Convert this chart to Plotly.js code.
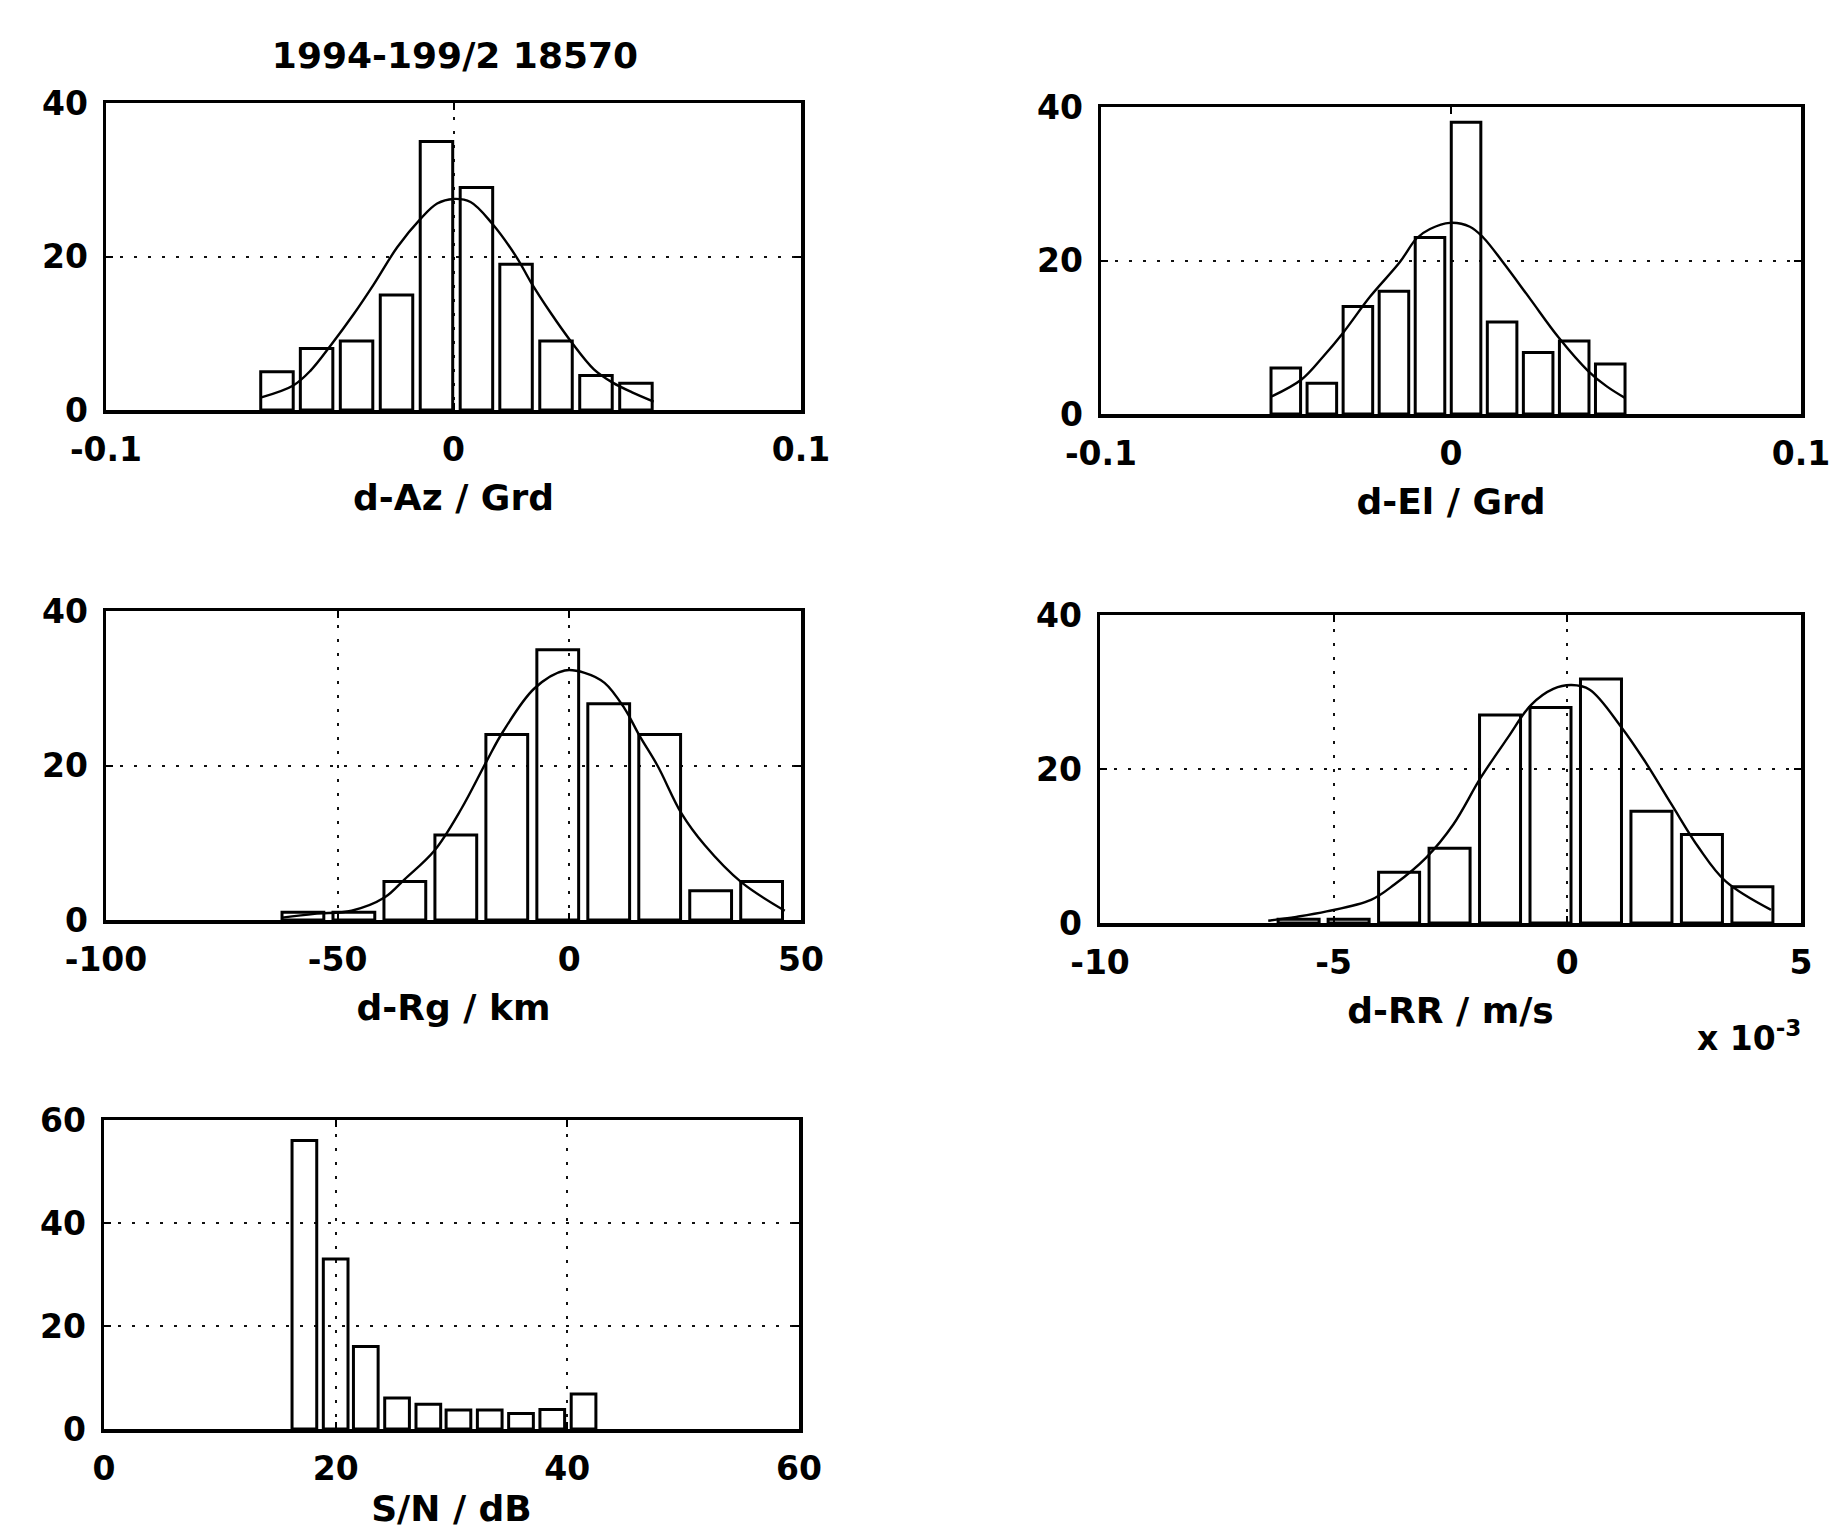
<!DOCTYPE html>
<html>
<head>
<meta charset="utf-8">
<script src="https://cdn.plot.ly/plotly-3.0.1.min.js"></script>
<style>html,body{margin:0;padding:0;background:#fff;}#chart{width:1842px;height:1533px;}</style>
</head>
<body>
<div id="chart"></div>
<script>
// ---------- data ----------
const chartTitle = "1994-199/2 18570";

// Panel 1: d-Az / Grd
const azBinCenters = [-0.0508, -0.0394, -0.0279, -0.0164, -0.0049, 0.0066, 0.0180, 0.0295, 0.0410, 0.0525];
const azCounts     = [5, 8, 9, 15, 35, 29, 19, 9, 4.5, 3.5];
const azFitX = [-0.0553, -0.0461, -0.0412, -0.0352, -0.0287, -0.0229, -0.0162, -0.0095, -0.0047, 0.0, 0.0049, 0.0111, 0.0183, 0.0222, 0.0279, 0.0337, 0.0404, 0.0457, 0.0514, 0.0576];
const azFitY = [1.65, 3.2, 5.1, 8.5, 12.5, 16.4, 21.2, 24.9, 26.9, 27.5, 27.1, 24.3, 19.8, 16.7, 12.7, 9.0, 5.3, 3.6, 2.3, 1.1];

// Panel 2: d-El / Grd
const elBinCenters = [-0.0472, -0.0369, -0.0266, -0.0163, -0.0060, 0.0043, 0.0146, 0.0249, 0.0352, 0.0455];
const elCounts     = [6, 4, 14, 16, 23, 38, 12, 8, 9.5, 6.5];
const elFitX = [-0.0512, -0.0427, -0.0365, -0.0308, -0.0231, -0.0146, -0.0098, -0.0060, -0.0003, 0.0054, 0.0092, 0.0148, 0.0226, 0.0307, 0.0392, 0.0445, 0.0497];
const elFitY = [2.3, 4.5, 7.5, 10.6, 15.3, 19.8, 22.9, 24.1, 24.9, 24.4, 23.0, 19.8, 15.0, 10.0, 5.6, 3.6, 2.1];

// Panel 3: d-Rg / km
const rgBinCenters = [-57.5, -46.5, -35.5, -24.5, -13.5, -2.5, 8.5, 19.5, 30.5, 41.5];
const rgCounts     = [1, 1, 5, 11, 24, 35, 28, 24, 3.8, 5];
const rgFitX = [-62, -55, -47, -39.9, -35.5, -29.1, -23.3, -17.9, -14.3, -7.5, -1.0, 3.3, 7.6, 11.9, 15.2, 19.1, 24.2, 29.2, 37.1, 46.5];
const rgFitY = [0.3, 0.8, 1.2, 2.9, 5.3, 9.0, 14.4, 20.5, 24.4, 30.0, 32.3, 32.0, 30.7, 27.4, 23.8, 19.9, 13.8, 9.7, 4.9, 1.2];

// Panel 4: d-RR / m/s  (x in units of 1e-3)
const rrBinCenters = [-5.75, -4.68, -3.60, -2.52, -1.44, -0.36, 0.72, 1.80, 2.88, 3.96];
const rrCounts     = [0.5, 0.5, 6.6, 9.7, 27, 28, 31.7, 14.5, 11.5, 4.7];
const rrFitX = [-6.4, -5.8, -5.15, -4.2, -3.7, -3.02, -2.44, -1.85, -1.27, -0.78, -0.30, 0.09, 0.48, 1.16, 1.65, 2.23, 2.81, 3.39, 4.36];
const rrFitY = [0.3, 0.8, 1.5, 3.0, 5.0, 8.5, 12.8, 18.9, 24.1, 28.3, 30.4, 30.9, 30.3, 25.4, 21.1, 15.4, 9.8, 5.4, 1.7];

// Panel 5: S/N / dB
const snBinCenters = [17.3, 20.0, 22.6, 25.3, 28.0, 30.6, 33.3, 36.0, 38.7, 41.4];
const snCounts     = [56, 33, 16, 6, 4.8, 3.7, 3.7, 3, 3.8, 6.8];

// Tick labels
const tickAngle   = [-0.1, 0, 0.1];
const tickAngleTx = ["-0.1", "0", "0.1"];
const tickRg      = [-100, -50, 0, 50];
const tickRgTx    = ["-100", "-50", "0", "50"];
const tickRR      = [-10, -5, 0, 5];
const tickRRTx    = ["-10", "-5", "0", "5"];
const tickSN      = [0, 20, 40, 60];
const tickSNTx    = ["0", "20", "40", "60"];
const tickCount40 = [0, 20, 40];
const tickCount60 = [0, 20, 40, 60];

const axisTitles = ["d-Az / Grd", "d-El / Grd", "d-Rg / km", "d-RR / m/s", "S/N / dB"];

// ---------- styling ----------
const FONT = "DejaVu Sans";
const W = 1842, H = 1533;
function px2x(a, b) { return [a / W, b / W]; }
function px2y(top, bottom) { return [1 - bottom / H, 1 - top / H]; }

function barTrace(x, y, n) {
  return {
    type: "bar", x: x, y: y, xaxis: "x" + (n === 1 ? "" : n), yaxis: "y" + (n === 1 ? "" : n),
    marker: { color: "rgba(255,255,255,0)", line: { color: "#000", width: 3 } },
    hoverinfo: "skip", showlegend: false
  };
}
function fitTrace(x, y, n) {
  return {
    type: "scatter", mode: "lines", x: x, y: y, xaxis: "x" + (n === 1 ? "" : n), yaxis: "y" + (n === 1 ? "" : n),
    line: { color: "#000", width: 2.4, shape: "spline", smoothing: 1 },
    hoverinfo: "skip", showlegend: false
  };
}

const common = {
  showline: true, linewidth: 3.5, linecolor: "#000", mirror: "ticks",
  ticks: "inside", ticklen: 7, tickwidth: 2, tickcolor: "#000",
  showgrid: true, gridcolor: "#111", gridwidth: 2, griddash: "3px,11px",
  zeroline: false, fixedrange: true,
  tickfont: { family: FONT, size: 33, color: "#000", weight: "bold" }
};
function xax(domain, range, vals, txt, title, anchor, standoff) {
  return Object.assign({}, common, {
    domain: domain, range: range, tickmode: "array", tickvals: vals, ticktext: txt,
    anchor: anchor, ticklabelstandoff: 8,
    title: { text: title, font: { family: FONT, size: 36, color: "#000", weight: "bold" }, standoff: standoff }
  });
}
function yax(domain, range, vals, anchor) {
  return Object.assign({}, common, {
    domain: domain, range: range, tickmode: "array", tickvals: vals, ticktext: vals.map(String),
    anchor: anchor, ticklabelstandoff: 8
  });
}

const traces = [
  barTrace(azBinCenters, azCounts, 1), fitTrace(azFitX, azFitY, 1),
  barTrace(elBinCenters, elCounts, 2), fitTrace(elFitX, elFitY, 2),
  barTrace(rgBinCenters, rgCounts, 3), fitTrace(rgFitX, rgFitY, 3),
  barTrace(rrBinCenters, rrCounts, 4), fitTrace(rrFitX, rrFitY, 4),
  barTrace(snBinCenters, snCounts, 5)
];

const layout = {
  width: W, height: H,
  margin: { l: 0, r: 0, t: 0, b: 0 },
  paper_bgcolor: "#fff", plot_bgcolor: "rgba(0,0,0,0)",
  bargap: 0.18, barmode: "overlay",
  showlegend: false,
  title: {
    text: chartTitle, font: { family: FONT, size: 36, color: "#000", weight: "bold" },
    x: 455 / W, xanchor: "center", y: 1 - 55 / H, yanchor: "middle"
  },
  xaxis:  xax(px2x(106, 801),  [-0.1, 0.1], tickAngle, tickAngleTx, axisTitles[0], "y", 17),
  yaxis:  yax(px2y(103, 410),  [0, 40], tickCount40, "x"),
  xaxis2: xax(px2x(1101, 1801), [-0.1, 0.1], tickAngle, tickAngleTx, axisTitles[1], "y2", 17),
  yaxis2: yax(px2y(107, 414),  [0, 40], tickCount40, "x2"),
  xaxis3: xax(px2x(106, 801),  [-100, 50], tickRg, tickRgTx, axisTitles[2], "y3", 17),
  yaxis3: yax(px2y(611, 920),  [0, 40], tickCount40, "x3"),
  xaxis4: xax(px2x(1100, 1801), [-10, 5], tickRR, tickRRTx, axisTitles[3], "y4", 17),
  yaxis4: yax(px2y(615, 923),  [0, 40], tickCount40, "x4"),
  xaxis5: xax(px2x(104, 799),  [0, 60], tickSN, tickSNTx, axisTitles[4], "y5", 9),
  yaxis5: yax(px2y(1120, 1429), [0, 60], tickCount60, "x5"),
  annotations: [{
    text: "x 10<sup>-3</sup>", xref: "paper", yref: "paper",
    x: 1803 / W, y: 1 - 1036 / H, xanchor: "right", yanchor: "middle",
    showarrow: false, font: { family: FONT, size: 33, color: "#000", weight: "bold" }
  }]
};

Plotly.newPlot("chart", traces, layout, { staticPlot: true, displayModeBar: false });
</script>
</body>
</html>
